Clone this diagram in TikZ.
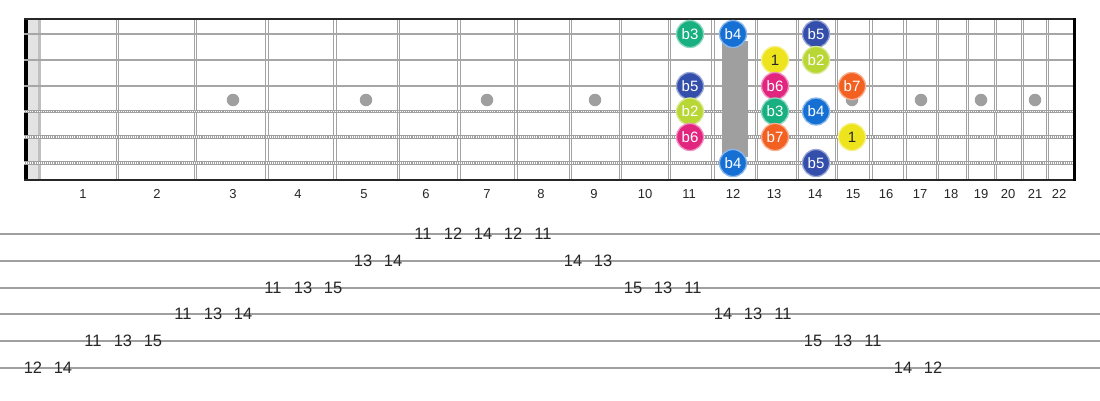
\documentclass[tikz,border=0pt]{standalone}
\usepackage{fontspec}
\setmainfont{Liberation Sans}
\usetikzlibrary{positioning}

\definecolor{degone}{RGB}{238,228,30}
\definecolor{degtwo}{RGB}{184,214,52}
\definecolor{degthree}{RGB}{24,176,128}
\definecolor{degfour}{RGB}{22,112,212}
\definecolor{degfive}{RGB}{52,78,172}
\definecolor{degsix}{RGB}{226,38,128}
\definecolor{degseven}{RGB}{242,96,34}

\begin{document}
\begin{tikzpicture}[x=1pt, y=-1pt,
  fretwire/.style={draw=gray!72, double=white, double distance=1.3pt, line width=1.1pt},
  plainstring/.style={draw=gray!70, line width=2.4pt},
  woundstring/.style={draw=gray!75, line width=3.4pt},
  winding/.style={draw=white, line width=1.3pt, dash pattern=on 1pt off 1.1pt},
  inlay/.style={circle, fill=gray!75, minimum size=12.5pt, inner sep=0pt},
  note/.style={circle, minimum size=27pt, inner sep=0pt, line width=1.3pt,
    text=white, font=\fontsize{15}{16}\selectfont},
  root/.style={note, fill=degone, draw=degone!55!white, text=black!85},
  btwo/.style={note, fill=degtwo, draw=degtwo!55!white},
  bthree/.style={note, fill=degthree, draw=degthree!50!white},
  bfour/.style={note, fill=degfour, draw=degfour!50!white},
  bfive/.style={note, fill=degfive, draw=degfive!50!white},
  bsix/.style={note, fill=degsix, draw=degsix!50!white},
  bseven/.style={note, fill=degseven, draw=degseven!50!white},
  fretnum/.style={text=black!85, font=\fontsize{13}{14}\selectfont},
  tabnum/.style={inner sep=0pt, text=black!85, font=\fontsize{16.5}{18}\selectfont},
  tabline/.style={draw=gray!75, line width=1.6pt}
]
\useasboundingbox (0,0) rectangle (1100,400);

% Nut
\fill[black] (23.5,19) rectangle (28,180);
\fill[gray!22] (28,19) rectangle (38,180);
\fill[gray!50] (38,19) rectangle (41,180);

% Frets
\foreach \fx in {117.5,195.5,267,335,398.5,459,516,570.5,620.5,669.5,713,
  756.5,797.5,836.5,871,905,937.5,967.5,995.5,1022.5,1047.5}
  \draw[fretwire] (\fx,19) -- (\fx,180);

% Strings (top three plain, bottom three wound)
\draw[plainstring] (24,34) -- (1073,34);
\draw[plainstring] (24,60) -- (1073,60);
\draw[plainstring] (24,86) -- (1073,86);
\foreach \sy in {111.5,137,163} {
  \draw[woundstring] (24,\sy) -- (1073,\sy);
  \draw[winding] (24,\sy) -- (1073,\sy);
}

% Border
\draw[black!85, line width=1.6pt] (24,19) -- (1074,19);
\draw[black!85, line width=1.6pt] (24,180) -- (1074,180);
\draw[black, line width=3pt] (1074,18.2) -- (1074,180.8);

% Inlays
\foreach \ix [count=\k] in {233,366,487,595,852,921,981,1035}
  \node[inlay] (dot\k) at (\ix,100) {};
\fill[gray!75] (722,41) rectangle (748,157);

% Scale notes
\node[bthree] (s1f11) at (690,34) {b3};
\node[bfour]  (s1f12) at (733,34) {b4};
\node[bfive]  (s1f14) at (816,34) {b5};
\node[root]   (s2f13) at (775,60) {1};
\node[btwo]   (s2f14) at (816,60) {b2};
\node[bfive]  (s3f11) at (690,86) {b5};
\node[bsix]   (s3f13) at (775,86) {b6};
\node[bseven] (s3f15) at (852,86) {b7};
\node[btwo]   (s4f11) at (690,111.5) {b2};
\node[bthree] (s4f13) at (775,111.5) {b3};
\node[bfour]  (s4f14) at (816,111.5) {b4};
\node[bsix]   (s5f11) at (690,137) {b6};
\node[bseven] (s5f13) at (775,137) {b7};
\node[root]   (s5f15) at (852,137) {1};
\node[bfour]  (s6f12) at (733,163) {b4};
\node[bfive]  (s6f14) at (816,163) {b5};

% Fret numbers
\foreach \lx [count=\n] in {83,157,233,298,364,426,487,541,594,645,689,733,
  774,815,853,886,920,951,981,1008,1035,1059}
  \node[fretnum] (fret\n) at (\lx,194) {\n};

% Tab staff
\foreach \ty in {234,261,288,314,341,368}
  \draw[tabline] (0,\ty) -- (1100,\ty);

% Tab numbers
\foreach \ty/\tv [count=\i from 0] in {368/12,368/14,341/11,341/13,341/15,
  314/11,314/13,314/14,288/11,288/13,288/15,261/13,261/14,
  234/11,234/12,234/14,234/12,234/11,261/14,261/13,
  288/15,288/13,288/11,314/14,314/13,314/11,341/15,341/13,341/11,368/14,368/12}
  \node[tabnum] (tab\i) at ({33+30*\i},\ty) {\tv};

\end{tikzpicture}
\end{document}
